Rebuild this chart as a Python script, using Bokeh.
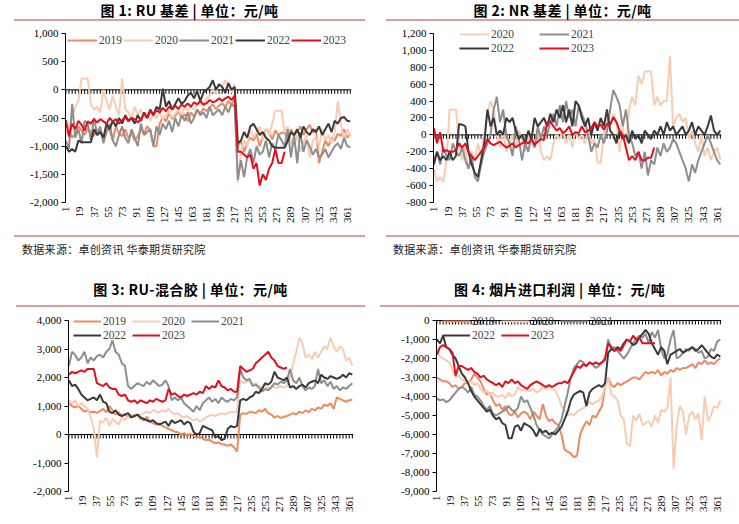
import math
from bokeh.plotting import figure
from bokeh.models import Range1d, FixedTicker, NumeralTickFormatter, Span, Legend, LegendItem, Div
from bokeh.layouts import column, row
from bokeh.embed import file_html
from bokeh.resources import INLINE

# ---------------- data ----------------
DAYS = list(range(1, 367, 4))          # sampled day index 1..365
DAYS_2023 = DAYS[:71]                  # 2023 ends around day 281
X_LABELS = list(range(1, 362, 18))     # 1, 19, 37, ... 361
ZERO_TICKS = list(range(1, 367, 4))
YEARS = ["2019", "2020", "2021", "2022", "2023"]

# Fig 1: RU basis
RU_2019 = [-620, -700, -850, -780, -650, -720, -800, -690, -750, -820,
           -700, -760, -850, -680, -720, -900, -640, -780, -820, -700,
           -860, -760, -900, -820, -700, -780, -650, -720, -1000, -1000,
           -600, -480, -560, -420, -520, -460, -380, -500, -430, -560,
           -400, -480, -350, -420, -330, -380, -300, -260, -340, -280,
           -240, -300, -200, -260, -150, -1000, -900, -1100, -950, -850,
           -900, -780, -1000, -820, -700, -760, -880, -720, -800, -760,
           -760, -900, -700, -820, -740, -650, -800, -700, -620, -760,
           -700, -1300, -1100, -900, -1000, -850, -900, -780, -820, -700,
           -850, -780]
RU_2020 = [-780, -650, -500, -300, -200, 200, 200, 200, -250, -350,
           -300, -400, 0, -200, -350, -100, -300, -450, 200, -350,
           -400, -500, -300, -450, -350, -500, -400, -550, -450, -500,
           -400, -520, -450, -380, -500, -420, -350, -450, -300, -380,
           -300, -350, -250, -200, -300, -150, -100, 0, -50, 100,
           50, 170, 100, -50, 100, -1650, -1100, -900, -1000, -700,
           -850, -750, -650, -900, -700, -800, -600, -370, -370, -370,
           -750, -650, -900, -1000, -800, -1100, -950, -800, -1200, -900,
           -850, -1000, -700, -900, -800, -950, -750, -200, -600, -900,
           -700, -820]
RU_2021 = [-900, -1050, -250, -850, -700, -950, -550, -600, -900, -500,
           -800, -650, -950, -750, -600, -900, -1000, -800, -650, -850,
           -950, -700, -850, -1000, -600, -800, -750, -700, -1000, -650,
           -800, -600, -700, -550, -750, -500, -650, -450, -550, -400,
           -600, -500, -350, -450, -400, -500, -300, -450, -400, -350,
           -450, -300, -400, -250, -300, -1600, -1250, -1550, -1200, -1050,
           -1300, -1000, -1150, -1100, -900, -1200, -950, -1050, -800, -900,
           -1000, -700, -1200, -800, -1300, -750, -1100, -900, -1000, -1150,
           -1050, -1200, -1150, -1050, -1200, -1100, -1000, -950, -1050, -850,
           -1000, -1020]
RU_2022 = [-1000, -1100, -1050, -1100, -900, -930, -930, -930, -930, -700,
           -800, -750, -850, -600, -700, -550, -650, -500, -600, -450,
           -550, -500, -600, -450, -550, -400, -500, -350, -450, -300,
           -350, 20, -300, -200, -350, -250, -150, -250, -200, -100,
           -50, -150, -20, -200, -50, 0, 50, 170, 0, 100,
           50, -50, 120, 0, 50, -950, -900, -750, -850, -650,
           -600, -700, -800, -750, -850, -900, -1000, -1030, -1030, -1030,
           -1030, -900, -750, -800, -700, -850, -650, -750, -800, -700,
           -750, -650, -800, -700, -600, -750, -550, -600, -500, -480,
           -550, -560]
RU_2023 = [-540, -830, -600, -700, -550, -620, -720, -560, -600, -520,
           -580, -520, -560, -600, -500, -560, -520, -600, -540, -480,
           -560, -500, -520, -580, -520, -420, -500, -380, -440, -360,
           -400, -320, -380, -300, -350, -280, -340, -260, -300, -240,
           -300, -220, -260, -200, -260, -240, -180, -220, -200, -150,
           -200, -150, -120, -180, -100, -1100, -1100, -1150, -1200, -1150,
           -1400, -1300, -1700, -1500, -1600, -1400, -1300, -1050, -1300, -1300,
           -1100]

# Fig 2: NR basis
NR_2020 = [-400, -550, -500, -560, -300, 300, 300, 300, -100, -300,
           -150, -400, -200, -300, -100, -250, 0, 250, 400, 300,
           0, -150, 50, -200, -100, 0, -150, 50, -50, -200,
           0, -100, -150, 50, -200, -300, -250, -300, -100, 0,
           -50, 50, -100, 0, -150, 50, -50, 0, -100, 50,
           -100, -50, -330, -330, 0, 200, 100, 250, 150, -200,
           100, -150, 300, 450, 350, 700, 600, 750, 750, 750,
           350, 450, 350, 400, 400, 930, 100, 200, 250, 150,
           200, -50, 50, -100, -200, 0, -250, -150, -300, -200,
           -150, -300]
NR_2021 = [-300, -200, -350, -150, -250, -300, -100, -200, -250, -150,
           -300, -400, -250, -500, -550, -350, -200, -100, 0, 300,
           450, 150, 300, 0, -100, -250, 100, -50, -300, -100,
           -200, 0, -150, 100, -50, 100, 0, 150, 250, 100,
           350, 150, 400, 200, 300, 100, 350, 250, 150, 0,
           -200, -100, -150, 0, -100, 50, 300, 530, 450, 350,
           100, 300, 0, -100, -250, -200, -400, -200, -480, -300,
           -350, -150, -250, -100, -200, -150, -50, -100, -200, -300,
           -400, -550, -350, -450, -300, -200, -100, 0, -100, -200,
           -300, -350]
NR_2022 = [-350, -200, -300, -250, -300, -200, -300, -250, 130, 120,
           100, -200, -350, -450, -500, -300, -100, 300, 100, 200,
           0, 50, 0, 200, 150, 200, 50, -50, 0, -100,
           50, -50, 200, 100, 150, 200, 100, 250, 150, 300,
           200, 350, 150, 300, 100, 400, 350, 200, 100, 200,
           0, 150, 50, 200, 100, 300, 50, 0, -100, 50,
           -50, 0, -100, 50, -50, 0, -100, 50, 0, -50,
           50, 0, 100, 0, 150, 50, 100, 0, 50, 100,
           0, 50, 150, 0, 100, 50, 0, 100, 230, 50,
           0, 50]
NR_2023 = [80, -100, 30, -200, -180, -200, -200, -180, -100, -150,
           -100, -200, -250, -300, -250, -200, -150, -50, -100, -120,
           -100, -80, -120, -150, -130, -100, -150, -120, -100, -80,
           -100, -50, -120, -80, -50, -60, 150, 160, 100, 50,
           80, 20, 50, 100, 0, 30, 20, 100, 30, 50,
           80, 150, 100, 120, 60, 130, 120, 210, 150, 50,
           0, -150, -300, -250, -300, -200, -300, -300, -270, -270,
           -150]

# Fig 3: RU - mixed rubber
MIX_2019 = [1100, 1000, 950, 1000, 900, 800, 850, 780, 800, 760,
            820, 900, 780, 1000, 850, 700, 780, 650, 720, 600,
            680, 620, 700, 550, 500, 620, 450, 400, 350, 380,
            300, 250, 200, 150, 100, 80, 0, 50, -50, 20,
            -50, -100, -80, -150, -200, -180, -250, -300, -280, -330,
            -350, -400, -350, -450, -600, 700, 750, 720, 800, 780,
            750, 850, 800, 900, 750, 700, 600, 650, 580, 620,
            650, 700, 750, 700, 800, 750, 850, 780, 900, 850,
            950, 900, 1050, 1000, 1100, 900, 1300, 1250, 1200, 1150,
            1200, 1230]
MIX_2020 = [1200, 1100, 1200, 1000, 1100, 1000, 900, 600, 200, -800,
            500, 400, 600, 300, 550, 450, 350, 600, 500, 650,
            600, 700, 650, 700, 750, 800, 750, 850, 800, 780,
            850, 800, 900, 780, 700, 750, 650, 600, 650, 550,
            500, 550, 450, 500, 600, 650, 700, 650, 700, 750,
            700, 750, 800, 780, 800, 1900, 1800, 1850, 1900, 1750,
            1800, 1700, 1650, 1750, 1600, 1700, 1650, 1650, 1700, 1650,
            1700, 2000, 2500, 2900, 3400, 3200, 2700, 2800, 2650, 2900,
            2700, 2900, 3100, 3000, 3400, 3100, 2900, 3100, 3000, 2600,
            2700, 2400]
MIX_2021 = [2400, 2900, 2800, 2600, 2700, 2900, 2500, 2700, 2600, 2750,
            2800, 2700, 2900, 3000, 3300, 2900, 2800, 2500, 2400, 1700,
            1600, 1700, 1800, 1750, 1700, 1850, 1750, 1900, 1800, 1700,
            1750, 1900, 1700, 1200, 1300, 1200, 1300, 1100, 1000, 900,
            800, 1000, 850, 1100, 1200, 1300, 1150, 1250, 1100, 1300,
            1200, 1150, 1250, 1200, 1300, 2300, 2000, 1900, 1950, 1700,
            1750, 1650, 1500, 1600, 1550, 1650, 1800, 1750, 1850, 1800,
            1900, 2300, 1900, 1800, 2000, 1700, 1550, 1650, 1600, 1700,
            2300, 1800, 1900, 1700, 1850, 1600, 1700, 1550, 1650, 1600,
            1700, 1800]
MIX_2022 = [1900, 1700, 1750, 1600, 1400, 1300, 1200, 1250, 1300, 1200,
            1400, 1150, 1100, 800, 750, 850, 700, 650, 700, 750,
            600, 650, 700, 600, 550, 500, 450, 500, 400, 350,
            400, 450, 300, 500, 400, 450, 500, 350, 450, 400,
            100, 0, 50, 300, 250, 200, 150, -100, -50, -200,
            -150, 200, 300, 250, 300, 1200, 1250, 1200, 1300, 1350,
            1500, 1450, 1600, 1800, 1750, 1850, 2200, 2000, 1950, 1900,
            2000, 1650, 1700, 1600, 1700, 1750, 1650, 1800, 1850, 1900,
            1800, 2100, 2000, 1950, 2050, 2000, 1950, 2000, 2100, 2000,
            2150, 2100]
MIX_2023 = [2100, 2200, 2150, 2200, 2250, 2200, 2300, 2300, 2300, 1800,
            1750, 1700, 1800, 1650, 1600, 1600, 1400, 1350, 1400, 1200,
            1150, 1200, 1100, 1200, 1150, 1100, 1200, 1150, 1250, 1200,
            1150, 1200, 1600, 1400, 1450, 1350, 1300, 1400, 1350, 1400,
            1450, 1400, 1500, 1450, 1700, 1600, 1700, 1650, 1900, 1700,
            1650, 1550, 1600, 1500, 1500, 2400, 2300, 2200, 2250, 2300,
            2500, 2600, 2700, 2800, 2900, 2700, 2600, 2400, 2350, 2300,
            2350]

# Fig 4: smoked sheet import profit
IMP_2019 = [-3000, -3100, -3200, -3200, -3300, -3500, -3400, -3600, -3500, -3300,
            -3300, -3100, -2800, -3000, -3200, -3600, -3900, -3800, -4200, -4500,
            -4400, -4700, -4500, -4900, -5000, -4800, -5100, -4900, -4800, -4900,
            -5200, -4800, -5000, -5200, -4400, -5000, -5300, -5200, -5400, -5500,
            -6000, -6800, -6900, -7000, -7200, -7100, -6000, -5600, -5300, -5500,
            -5000, -5100, -4800, -4500, -3500, -3000, -3400, -3500, -3300, -3400,
            -3300, -3200, -3100, -3000, -3000, -3100, -2900, -2700, -2800, -2700,
            -2800, -2600, -2900, -2700, -2800, -2600, -2700, -2500, -2600, -2500,
            -2500, -2400, -2300, -2500, -2200, -2300, -2100, -2300, -2200, -2300,
            -2100, -2000]
IMP_2020 = [-1500, -1900, -2000, -2100, -2200, -2600, -3000, -2900, -3100, -3200,
            -3300, -3200, -3400, -3300, -3600, -3800, -3700, -3900, -3800, -4000,
            -4000, -3900, -4100, -3800, -4000, -3900, -3500, -3700, -3600, -3700,
            -3700, -3600, -3800, -3700, -3500, -3600, -3500, -3600, -3700, -4000,
            -4500, -4700, -5000, -4900, -5000, -4800, -4700, -4600, -4500, -4300,
            -4400, -4300, -4200, -4000, -3500, -3000, -3900, -4000, -4200, -5000,
            -5200, -6500, -6600, -5000, -5300, -4900, -5500, -5400, -5300, -5600,
            -5000, -5400, -4700, -4800, -4600, -3000, -7800, -5500, -4500, -4800,
            -6000, -5000, -4800, -5200, -4900, -6300, -4000, -5300, -5000, -4500,
            -4600, -4200]
IMP_2021 = [-4100, -4200, -4150, -4300, -4200, -4000, -3800, -3600, -3500, -3600,
            -3800, -3500, -3900, -4000, -4200, -4500, -4700, -4500, -4900, -5000,
            -4900, -4800, -4700, -4500, -4700, -4800, -4600, -4000, -4300, -4200,
            -4600, -5000, -5500, -5800, -6000, -6100, -6200, -6000, -5800, -5600,
            -5200, -4500, -3800, -3000, -2500, -2300, -2100, -2200, -2400, -2200,
            -2300, -2500, -2400, -2200, -2100, -1000, -1500, -1400, -1600, -1800,
            -2000, -1800, -1500, -1200, -1000, -800, -900, -700, -1200, -600,
            -900, -500, -1500, -2000, -1800, -1000, -500, -2000, -1900, -1700,
            -1500, -1600, -1400, -1500, -1700, -1600, -2000, -1900, -1500, -1600,
            -1100, -1000]
IMP_2022 = [-1000, -1200, -800, -1400, -1500, -1800, -2000, -2400, -2800, -3000,
            -3300, -3700, -4000, -4200, -4400, -4600, -4800, -4700, -5000, -5200,
            -5100, -5400, -5500, -6200, -6200, -5600, -5500, -5800, -5400, -5500,
            -5600, -5800, -6100, -5700, -5900, -5800, -6000, -5900, -6000, -5800,
            -5600, -5200, -4800, -4200, -3900, -3800, -3700, -3800, -4500, -3800,
            -3600, -3500, -3400, -3500, -3300, -1700, -1500, -1600, -1400, -1500,
            -1200, -1000, -1100, -1300, -1200, -900, -700, -500, -700, -1200,
            -1500, -1800, -1400, -1600, -2300, -1800, -1700, -1600, -1500, -1700,
            -1600, -1500, -1400, -1600, -1500, -1300, -1500, -1700, -1900, -2000,
            -1800, -1900]
IMP_2023 = [-1800, -1400, -1300, -1400, -1500, -1700, -2900, -2400, -2400, -2500,
            -2600, -2500, -2700, -2800, -3000, -2900, -3100, -3200, -3300, -3400,
            -3300, -3500, -3200, -3300, -3100, -3300, -3200, -3400, -3500, -3600,
            -3400, -3300, -3200, -3300, -3400, -3500, -3400, -3500, -3400, -3300,
            -3300, -3200, -3300, -3000, -2700, -2400, -2500, -2300, -2400, -2200,
            -2300, -2200, -2300, -2200, -2000, -1200, -1400, -1600, -1500, -1600,
            -1300, -1000, -1100, -800, -1000, -900, -1200, -1200, -1200, -1200,
            -1200]

TITLES = ["图 1: RU 基差 | 单位：元/吨", "图 2: NR 基差 | 单位：元/吨",
          "图 3: RU-混合胶 | 单位：元/吨", "图 4: 烟片进口利润 | 单位：元/吨"]
SOURCE = "数据来源：卓创资讯 华泰期货研究院"

# ---------------- style ----------------
COLORS = {"2019": "#EF8A60", "2020": "#F8CBB3", "2021": "#8E8E8E",
          "2022": "#3A3A3A", "2023": "#E0101E"}
PINK = "#DE9E9E"
SERIF = "'Liberation Serif', 'Times New Roman', serif"
CJK = "'Noto Sans CJK SC', 'Noto Sans', sans-serif"
EXTRA = 12   # px of headroom above the top tick so legends are not clipped


def make_fig(data, ymin, ymax, ystep, mbl, frame_w, mbr, mbt, frame_h, mbb, legend_rows):
    per_px = (ymax - ymin) / frame_h
    p = figure(width=mbl + frame_w + mbr, height=mbt + frame_h + mbb,
               x_range=Range1d(0.5, 366.5),
               y_range=Range1d(ymin, ymax + EXTRA * per_px),
               output_backend="svg", toolbar_location=None,
               min_border_left=mbl, min_border_right=mbr,
               min_border_top=mbt - EXTRA, min_border_bottom=mbb)
    p.outline_line_color = None
    p.grid.visible = False
    p.background_fill_color = "white"
    p.border_fill_color = "white"

    xa = p.xaxis[0]
    xa.ticker = FixedTicker(ticks=X_LABELS)
    xa.major_label_orientation = math.pi / 2
    xa.axis_line_color = None
    xa.major_tick_line_color = None
    xa.major_tick_in = 0
    xa.major_tick_out = 0
    xa.minor_tick_line_color = None
    xa.minor_tick_in = 0
    xa.minor_tick_out = 0
    xa.major_label_standoff = 4
    xa.major_label_text_font = SERIF
    xa.major_label_text_font_size = "11px"
    xa.major_label_text_color = "black"

    ya = p.yaxis[0]
    ya.ticker = FixedTicker(ticks=list(range(ymin, ymax + 1, ystep)))
    ya.formatter = NumeralTickFormatter(format="0,0")
    ya.bounds = (ymin, ymax)
    ya.axis_line_color = "black"
    ya.major_tick_line_color = "black"
    ya.major_tick_in = 0
    ya.major_tick_out = 4
    ya.minor_tick_line_color = None
    ya.major_label_standoff = 3
    ya.major_label_text_font = SERIF
    ya.major_label_text_font_size = "11px"
    ya.major_label_text_color = "black"

    # horizontal category axis crossing at 0
    p.segment(x0=[0.5], y0=[0], x1=[366.5], y1=[0], line_color="black", line_width=1)
    tl = per_px * 4
    p.segment(x0=ZERO_TICKS, y0=[0] * len(ZERO_TICKS), x1=ZERO_TICKS,
              y1=[-tl] * len(ZERO_TICKS), line_color="black", line_width=1)

    rends = {}
    for yr, (xs, ys) in data.items():
        rends[yr] = p.line(xs, ys, line_color=COLORS[yr], line_width=2)

    for (vx, vy, yrs, spacing, gw) in legend_rows:
        lg = Legend(items=[LegendItem(label=y, renderers=[rends[y]]) for y in yrs],
                    location=(vx, vy), orientation="horizontal",
                    glyph_width=gw, glyph_height=8, label_height=8, label_standoff=2,
                    spacing=spacing, padding=0, margin=0,
                    label_text_font=SERIF, label_text_font_size="11.5px",
                    background_fill_alpha=0, border_line_color=None)
        p.add_layout(lg, "center")
    return p


def title_div(text, width, ml, w, h, pad):
    html = ('<div style="margin-left:%dpx;width:%dpx;height:%dpx;box-sizing:border-box;'
            'padding-top:%dpx;border-bottom:2px solid %s;text-align:center;font-weight:bold;'
            'font-size:14px;line-height:15px;letter-spacing:0.4px;color:#000;font-family:%s;'
            'white-space:nowrap;">%s</div>'
            % (ml, w, h, pad, PINK, CJK, text))
    return Div(text=html, width=width, height=h, margin=(0, 0, 0, 0))


def source_div(width, ml, w, tml, h):
    html = ('<div style="margin-left:%dpx;width:%dpx;height:%dpx;box-sizing:border-box;'
            'border-top:2px solid %s;padding-top:6px;padding-left:%dpx;font-size:11px;'
            'letter-spacing:0.3px;line-height:13px;color:#222;font-family:%s;'
            'white-space:nowrap;">%s</div>'
            % (ml, w, h, PINK, tml, CJK, SOURCE))
    return Div(text=html, width=width, height=h, margin=(0, 0, 0, 0))


d1 = {"2019": (DAYS, RU_2019), "2020": (DAYS, RU_2020), "2021": (DAYS, RU_2021),
      "2022": (DAYS, RU_2022), "2023": (DAYS_2023, RU_2023)}
d2 = {"2020": (DAYS, NR_2020), "2021": (DAYS, NR_2021),
      "2022": (DAYS, NR_2022), "2023": (DAYS_2023, NR_2023)}
d3 = {"2019": (DAYS, MIX_2019), "2020": (DAYS, MIX_2020), "2021": (DAYS, MIX_2021),
      "2022": (DAYS, MIX_2022), "2023": (DAYS_2023, MIX_2023)}
d4 = {"2019": (DAYS, IMP_2019), "2020": (DAYS, IMP_2020), "2021": (DAYS, IMP_2021),
      "2022": (DAYS, IMP_2022), "2023": (DAYS_2023, IMP_2023)}

# top row: tick frames y 33..202 ; bottom row: y 320..491
p1 = make_fig(d1, -2000, 1000, 500, 65, 286, 14, 12, 169, 33,
              [(2, 156, YEARS, 1, 30)])
p2 = make_fig(d2, -800, 1200, 200, 68, 288, 18, 11, 170, 33,
              [(26, 162, ["2020", "2021"], 25, 30), (26, 148, ["2022", "2023"], 25, 30)])
p3 = make_fig(d3, -2000, 4000, 1000, 68, 285, 12, 13, 171, 24,
              [(5, 164, ["2019", "2020", "2021"], 6, 28), (5, 150, ["2022", "2023"], 6, 28)])
p4 = make_fig(d4, -9000, 0, 1000, 71, 285, 18, 13, 171, 24,
              [(6, 164, ["2019", "2020", "2021"], 6, 28), (6, 150, ["2022", "2023"], 6, 28)])

LW, RW = 365, 374
c1 = column(title_div(TITLES[0], LW, 14, 351, 21, 3), p1,
            source_div(LW, 14, 351, 8, 43), spacing=0)
c2 = column(title_div(TITLES[1], RW, 21, 353, 21, 3), p2,
            source_div(RW, 21, 353, 7, 43), spacing=0)
c3 = column(title_div(TITLES[2], LW, 16, 349, 29, 4), p3, spacing=0)
c4 = column(title_div(TITLES[3], RW, 15, 359, 29, 4), p4, spacing=0)

layout = column(row(c1, c2, spacing=0), row(c3, c4, spacing=0), spacing=0)

open("out.html", "w").write(file_html(layout, INLINE))
